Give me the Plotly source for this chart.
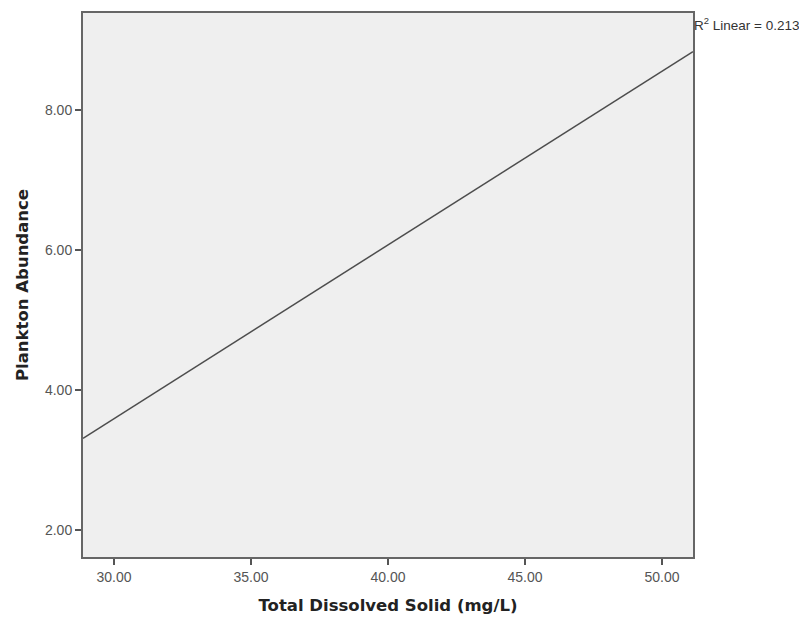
import plotly.graph_objects as go

# Fit line endpoints (data range)
fit_x = [28.87, 51.13]
fit_y = [3.31, 8.83]
x_ticks = [30, 35, 40, 45, 50]
x_tick_labels = ["30.00", "35.00", "40.00", "45.00", "50.00"]
y_ticks = [2, 4, 6, 8]
y_tick_labels = ["2.00", "4.00", "6.00", "8.00"]
r2_text = "R<sup>2</sup> Linear = 0.213"
x_title = "Total Dissolved Solid (mg/L)"
y_title = "Plankton Abundance"

fig = go.Figure()
fig.add_trace(go.Scatter(x=fit_x, y=fit_y, mode="lines",
                         line=dict(color="#4d4d4d", width=1.5),
                         hoverinfo="skip", showlegend=False))

fig.update_layout(
    width=799, height=609,
    margin=dict(l=75, r=114, t=3, b=60),
    paper_bgcolor="white",
    plot_bgcolor="#efefef",
    showlegend=False,
    font=dict(family="Liberation Sans, Arial", size=14, color="#555555"),
)
title_font = dict(family="DejaVu Sans", size=16.5, color="#222222", weight="bold")
axis_common = dict(
    showgrid=False, zeroline=False,
    showline=True, linecolor="#666666", linewidth=2, mirror=True,
    ticks="outside", ticklen=6, tickwidth=1.5, tickcolor="#555555",
    tickfont=dict(family="Liberation Sans, Arial", size=14, color="#555555"),
)
fig.update_xaxes(range=[28.87, 51.13], tickvals=x_ticks, ticktext=x_tick_labels,
                 title=dict(text=x_title, font=title_font, standoff=16),
                 **axis_common)
fig.update_yaxes(range=[1.616, 9.38], tickvals=y_ticks, ticktext=y_tick_labels,
                 title=dict(text=y_title, font=title_font, standoff=12),
                 **axis_common)

fig.add_annotation(x=1.0, y=1.0, xref="paper", yref="paper",
                   xanchor="left", yanchor="middle", yshift=-11, xshift=-1,
                   text=r2_text, showarrow=False,
                   font=dict(family="Liberation Sans, Arial", size=13.5, color="#333333"))

fig.write_html("out.html")
